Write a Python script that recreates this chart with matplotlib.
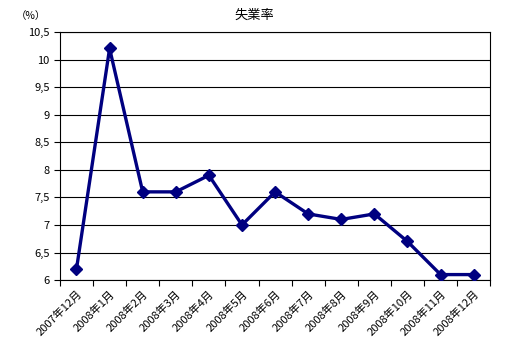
import matplotlib
matplotlib.use("Agg")
import matplotlib.pyplot as plt
from matplotlib.ticker import FixedLocator, FuncFormatter, NullFormatter

plt.rcParams["font.family"] = ["Noto Sans CJK JP", "DejaVu Sans"]

# ── Data ──────────────────────────────────────────────────────────────────────
months = ["2007年12月", "2008年1月", "2008年2月", "2008年3月", "2008年4月",
          "2008年5月", "2008年6月", "2008年7月", "2008年8月", "2008年9月",
          "2008年10月", "2008年11月", "2008年12月"]
rate = [6.2, 10.2, 7.6, 7.6, 7.9, 7.0, 7.6, 7.2, 7.1, 7.2, 6.7, 6.1, 6.1]
y_ticks = [6, 6.5, 7, 7.5, 8, 8.5, 9, 9.5, 10, 10.5]

fig = plt.figure(figsize=(5.08, 3.51), dpi=100)
ax = fig.add_axes([0.118, 0.202, 0.847, 0.707])

x = list(range(len(months)))
ax.plot(x, rate, color="#000080", linewidth=2.4, marker="D",
        markersize=6.5, markerfacecolor="#000080", markeredgecolor="#000080",
        zorder=3)

ax.set_xlim(-0.5, len(months) - 0.5)
ax.set_ylim(6, 10.5)
ax.set_yticks(y_ticks)
ax.yaxis.set_major_formatter(
    FuncFormatter(lambda v, _: (f"{v:g}").replace(".", ",")))
ax.grid(True, axis="y", color="black", linewidth=0.8)
ax.tick_params(axis="y", labelsize=8, length=4, direction="out")

# category boundary ticks + centered labels
ax.xaxis.set_major_locator(FixedLocator([i - 0.5 for i in range(len(months) + 1)]))
ax.xaxis.set_major_formatter(NullFormatter())
ax.xaxis.set_minor_locator(FixedLocator(x))
ax.set_xticklabels(months, minor=True, rotation=45, ha="right",
                   rotation_mode="anchor", fontsize=8)
ax.tick_params(axis="x", which="major", length=4, direction="out")
ax.tick_params(axis="x", which="minor", length=0, pad=6)

for s in ax.spines.values():
    s.set_color("black")
    s.set_linewidth(0.8)

fig.text(0.5, 0.955, "失業率", ha="center", va="center", fontsize=9.5)
fig.text(0.06, 0.955, "（%）", ha="center", va="center", fontsize=7.5)

fig.savefig("out.png", dpi=100)
